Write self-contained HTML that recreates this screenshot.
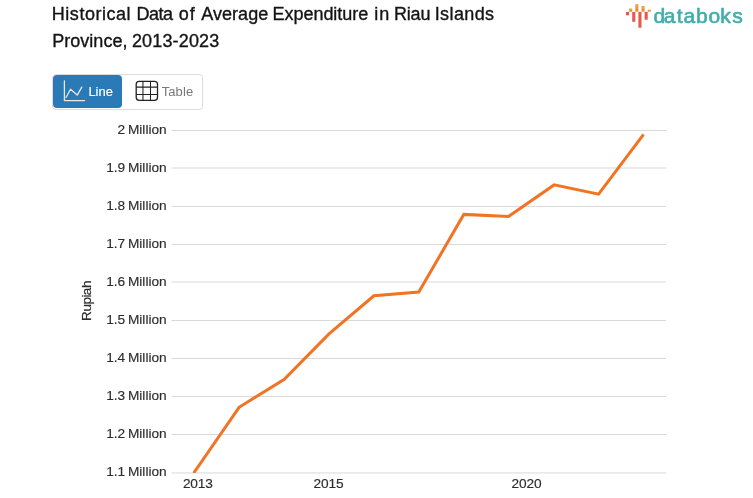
<!DOCTYPE html>
<html><head><meta charset="utf-8">
<style>
html,body{margin:0;padding:0;background:#fff;}
body{width:753px;height:498px;position:relative;overflow:hidden;font-family:"Liberation Sans",sans-serif;}
.abs{position:absolute;white-space:nowrap;}
.t{font-size:18px;line-height:27px;color:#141414;-webkit-text-stroke:0.35px #141414;}
.yl{right:586.3px;font-size:13.7px;line-height:14px;color:#2c2c2c;text-align:right;letter-spacing:0px;word-spacing:-1.1px;-webkit-text-stroke:0.15px #2c2c2c;}
.xl{font-size:13.7px;line-height:14px;color:#2c2c2c;letter-spacing:-0.15px;-webkit-text-stroke:0.15px #2c2c2c;}
.lg{top:3.9px;font-size:21px;line-height:24px;color:#41aeaa;-webkit-text-stroke:0.65px #41aeaa;}
</style></head><body><div style="position:absolute;left:0;top:0;width:753px;height:498px;will-change:transform;">
<!-- title line 1 -->
<span class="abs t" style="top:1.2px;left:51.8px;letter-spacing:0.53px">Historical</span>
<span class="abs t" style="top:1.2px;left:136.6px;letter-spacing:-0.5px">Data</span>
<span class="abs t" style="top:1.2px;left:178.8px;letter-spacing:1px">of</span>
<span class="abs t" style="top:1.2px;left:201.3px;letter-spacing:0.03px">Average</span>
<span class="abs t" style="top:1.2px;left:272.5px;letter-spacing:-0.03px">Expenditure</span>
<span class="abs t" style="top:1.2px;left:374.2px;letter-spacing:1px">in</span>
<span class="abs t" style="top:1.2px;left:394px;letter-spacing:-0.2px">Riau</span>
<span class="abs t" style="top:1.2px;left:434.7px;letter-spacing:0.4px">Islands</span>
<!-- title line 2 -->
<span class="abs t" style="top:28.2px;left:52.3px;letter-spacing:0.01px">Province,</span>
<span class="abs t" style="top:28.2px;left:131.9px;letter-spacing:0.16px">2013-2023</span>

<!-- logo -->
<svg class="abs" style="left:620px;top:0" width="40" height="32" viewBox="620 0 40 32">
 <defs><linearGradient id="og" x1="0" y1="0" x2="0" y2="1"><stop offset="0" stop-color="#f1a93e"/><stop offset="1" stop-color="#e98530"/></linearGradient></defs>
 <g fill="#e5584e">
  <rect x="626" y="11.9" width="3.1" height="3.4"/>
  <rect x="632.2" y="11.9" width="3.1" height="9.9"/>
  <rect x="638.4" y="11.9" width="3.1" height="15.8"/>
  <rect x="644.6" y="11.9" width="3.1" height="7.8"/>
 </g>
 <g fill="url(#og)">
  <rect x="629.1" y="8.5" width="3.1" height="3.2"/>
  <rect x="635.3" y="4.2" width="3.1" height="7.5"/>
  <rect x="641.5" y="6" width="3.1" height="5.7"/>
  <rect x="647.7" y="9.6" width="3.1" height="2.1"/>
 </g>
</svg>
<span class="abs lg" style="left:653.40px">d</span><span class="abs lg" style="left:663.80px">a</span><span class="abs lg" style="left:676.70px">t</span><span class="abs lg" style="left:683.40px">a</span><span class="abs lg" style="left:696.00px">b</span><span class="abs lg" style="left:708.50px">o</span><span class="abs lg" style="left:720.35px">k</span><span class="abs lg" style="left:732.30px">s</span>

<!-- buttons -->
<div class="abs" style="left:52px;top:74px;width:149px;height:34px;border:1px solid #dcdcdc;border-radius:4px;"></div>
<div class="abs" style="left:53px;top:74.7px;width:69px;height:33px;background:#2a7ab8;border-radius:4px;"></div>
<svg class="abs" style="left:53px;top:75px" width="150" height="33" viewBox="53 75 150 33" fill="none">
 <g stroke="#ece8e0" stroke-width="1.3" stroke-linecap="round" stroke-linejoin="round">
  <path d="M64.4 80.8 V100.6 H84.6"/>
  <path d="M66 97.5 L70.5 89.3 L77.2 95.1 L81.8 87.1"/>
 </g>
 <g stroke="#222" stroke-width="1.3">
  <rect x="136.2" y="81.3" width="21.3" height="19" rx="3"/>
  <path stroke-width="1.05" d="M142.95 81.3 V100.3 M150.5 81.3 V100.3 M136.2 87.1 H157.5 M136.2 94.45 H157.5"/>
 </g>
</svg>
<span class="abs" id="bl" style="left:88.4px;top:84.6px;font-size:13px;line-height:14px;color:#fff;letter-spacing:0px;-webkit-text-stroke:0.15px #fff">Line</span>
<span class="abs" id="bt" style="left:161.7px;top:84.6px;font-size:13px;line-height:14px;color:#777;letter-spacing:0.1px;">Table</span>

<svg class="abs" style="left:0;top:0" width="753" height="498" viewBox="0 0 753 498">
 <g stroke="#d9d9d9" stroke-width="1" >
  <line x1="171.4" x2="666.2" y1="130.5" y2="130.5"/>
  <line x1="171.4" x2="666.2" y1="168.0" y2="168.0"/>
  <line x1="171.4" x2="666.2" y1="206.4" y2="206.4"/>
  <line x1="171.4" x2="666.2" y1="244.5" y2="244.5"/>
  <line x1="171.4" x2="666.2" y1="282.0" y2="282.0"/>
  <line x1="171.4" x2="666.2" y1="320.5" y2="320.5"/>
  <line x1="171.4" x2="666.2" y1="358.5" y2="358.5"/>
  <line x1="171.4" x2="666.2" y1="396.5" y2="396.5"/>
  <line x1="171.4" x2="666.2" y1="434.5" y2="434.5"/>
   </g>
 <line x1="171.5" x2="666.3" y1="472.95" y2="472.95" stroke="#d9d9d9" stroke-width="1"/>
 <clipPath id="cp"><rect x="171" y="120" width="496" height="353"/></clipPath>
 <polyline clip-path="url(#cp)" fill="none" stroke="#f07424" stroke-width="3" stroke-linejoin="miter" stroke-miterlimit="10"
  points="193.7,473 239.1,407.3 284,379.5 329,333.9 373.9,295.8 418.8,292.1 463.8,214.4 508.5,216.4 554.1,184.9 598.6,194.2 643.6,134.3"/>
</svg>

<div class="abs yl" style="top:123.3px;">2 Million</div>
<div class="abs yl" style="top:161.3px;"><span>1.9</span> Million</div>
<div class="abs yl" style="top:199.3px;"><span>1.8</span> Million</div>
<div class="abs yl" style="top:237.3px;"><span>1.7</span> Million</div>
<div class="abs yl" style="top:275.3px;"><span>1.6</span> Million</div>
<div class="abs yl" style="top:313.3px;"><span>1.5</span> Million</div>
<div class="abs yl" style="top:351.3px;"><span>1.4</span> Million</div>
<div class="abs yl" style="top:389.3px;"><span>1.3</span> Million</div>
<div class="abs yl" style="top:427.3px;"><span>1.2</span> Million</div>
<div class="abs yl" style="top:465.3px;"><span>1.1</span> Million</div>

<div class="abs" style="left:87.2px;top:300.7px;font-size:13.6px;line-height:14px;color:#2c2c2c;-webkit-text-stroke:0.2px #2c2c2c;letter-spacing:-0.55px;transform:translate(-50%,-50%) rotate(-90deg);">Rupiah</div>

<span class="abs xl" style="left:182.9px;top:477px;">2013</span>
<span class="abs xl" style="left:313.5px;top:477px;">2015</span>
<span class="abs xl" style="left:511.5px;top:477px;">2020</span>
</div></body></html>
